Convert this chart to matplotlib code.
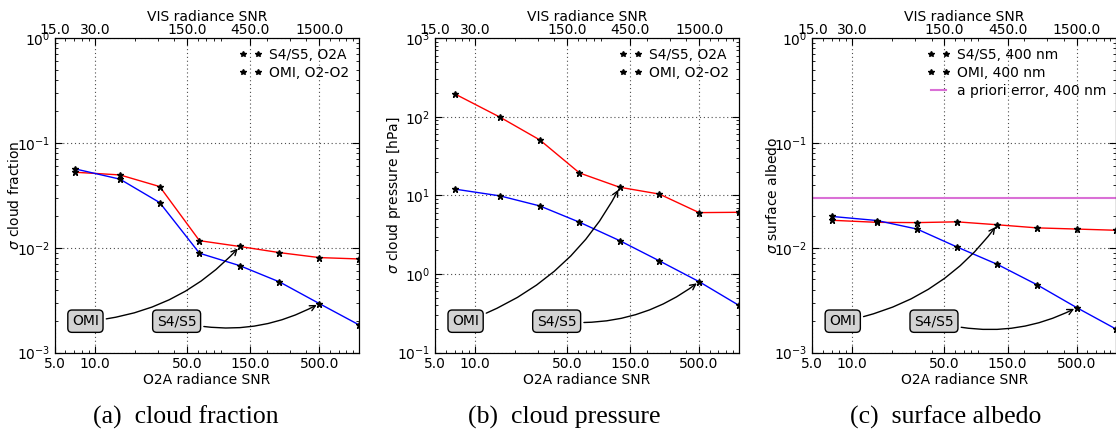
import matplotlib
matplotlib.use("Agg")
from matplotlib import pyplot as plt
from matplotlib.lines import Line2D
from matplotlib.ticker import NullFormatter

# O2A radiance SNR of the retrieval points
snr = [7.1, 15.5, 31.0, 62.0, 125.0, 250.0, 500.0, 1000.0]
xticks = [5, 10, 50, 150, 500]
xlabels_o2a = ["5.0", "10.0", "50.0", "150.0", "500.0"]
xlabels_vis = ["15.0", "30.0", "150.0", "450.0", "1500.0"]

# (a) cloud fraction
cf_s4s5 = [0.0566, 0.0452, 0.0270, 0.00888, 0.00676, 0.00473, 0.00294, 0.00184]
cf_omi = [0.0526, 0.0496, 0.0384, 0.0117, 0.0103, 0.0090, 0.00807, 0.00783]
# (b) cloud pressure [hPa]
cp_s4s5 = [12.0, 9.86, 7.35, 4.56, 2.66, 1.47, 0.80, 0.40]
cp_omi = [194.0, 98.8, 50.8, 19.3, 12.7, 10.4, 6.04, 6.1]
# (c) surface albedo
alb_s4s5 = [0.0199, 0.0182, 0.0151, 0.0102, 0.00697, 0.00445, 0.00269, 0.00167]
alb_omi = [0.0183, 0.0175, 0.0174, 0.0177, 0.0166, 0.0155, 0.0151, 0.0147]
alb_apriori = 0.03

plt.rcParams['font.family'] = ['DejaVu Sans']
plt.rcParams['font.size'] = 10
plt.rcParams['axes.unicode_minus'] = False


def panel(fig, rect, s4s5, omi, ylim, ylabel, labels, apriori=None, alabel=None):
    ax = fig.add_axes(rect)
    ax.set_xscale('log')
    ax.set_yscale('log')
    ax.plot(snr, omi, color='r', lw=1)
    ax.plot(snr, s4s5, color='b', lw=1)
    ax.plot(snr, omi, 'k*', ms=5)
    ax.plot(snr, s4s5, 'k*', ms=5)
    handles = [Line2D([], [], ls='none', marker='*', color='k', ms=4),
               Line2D([], [], ls='none', marker='*', color='k', ms=4)]
    if apriori is not None:
        ax.axhline(apriori, color='orchid', lw=1.5)
        handles.append(Line2D([], [], color='orchid', lw=1.5))
        labels = labels + [alabel]
    ax.set_xlim(5, 1000)
    ax.set_ylim(*ylim)
    ax.set_xticks(xticks)
    ax.set_xticklabels(xlabels_o2a)
    ax.xaxis.set_minor_formatter(NullFormatter())
    ax.set_xlabel("O2A radiance SNR", labelpad=1)
    ax.set_ylabel(ylabel, labelpad=-4)
    ax.grid(True, which='major', ls=(0, (1, 2.5)), color='0.3', lw=0.8)
    ax.tick_params(which='both', direction='in', right=True, top=False)
    ax.tick_params(which='major', length=5)
    ax.tick_params(which='minor', length=2.5)
    ax.legend(handles, labels, loc='upper right', frameon=False, numpoints=2,
              handlelength=1.7, handletextpad=0.5, labelspacing=0.3, fontsize=10,
              borderaxespad=0.3)

    top = ax.twiny()
    top.set_xscale('log')
    top.set_xlim(5, 1000)
    top.set_xticks(xticks)
    top.set_xticklabels(xlabels_vis)
    top.xaxis.set_minor_formatter(NullFormatter())
    top.set_xlabel("VIS radiance SNR", labelpad=1)
    top.tick_params(which='both', direction='in', pad=1)
    top.tick_params(which='major', length=5)
    top.tick_params(which='minor', length=2.5)

    box = dict(boxstyle='round,pad=0.3', fc='lightgray', ec='k')
    arrow = dict(arrowstyle='->', color='k', lw=1, connectionstyle='arc3,rad=0.2')
    ax.annotate("OMI", xy=(snr[4], omi[4]), xycoords='data',
                xytext=(0.10, 0.10), textcoords='axes fraction',
                ha='center', va='center', bbox=box, arrowprops=arrow)
    ax.annotate("S4/S5", xy=(snr[6], s4s5[6]), xycoords='data',
                xytext=(0.40, 0.10), textcoords='axes fraction',
                ha='center', va='center', bbox=box, arrowprops=arrow)
    return ax


fig = plt.figure(figsize=(11.16, 4.29), dpi=100)
bottom, height = 0.178, 0.733

panel(fig, [0.0493, bottom, 0.2724, height], cf_s4s5, cf_omi, (1e-3, 1e0),
      r"$\sigma$ cloud fraction", ["S4/S5, O2A", "OMI, O2-O2"])
panel(fig, [0.3900, bottom, 0.2720, height], cp_s4s5, cp_omi, (1e-1, 1e3),
      r"$\sigma$ cloud pressure [hPa]", ["S4/S5, O2A", "OMI, O2-O2"])
panel(fig, [0.7279, bottom, 0.2725, height], alb_s4s5, alb_omi, (1e-3, 1e0),
      r"$\sigma$ surface albedo", ["S4/S5, 400 nm", "OMI, 400 nm"],
      apriori=alb_apriori, alabel="a priori error, 400 nm")

cap = dict(ha='center', va='baseline', fontsize=18.5, family='Liberation Serif')
fig.text(0.1667, 1 - 424 / 429, "(a)  cloud fraction", **cap)
fig.text(0.5060, 1 - 424 / 429, "(b)  cloud pressure", **cap)
fig.text(0.8470, 1 - 424 / 429, "(c)  surface albedo", **cap)

fig.savefig("out.png", dpi=100)
